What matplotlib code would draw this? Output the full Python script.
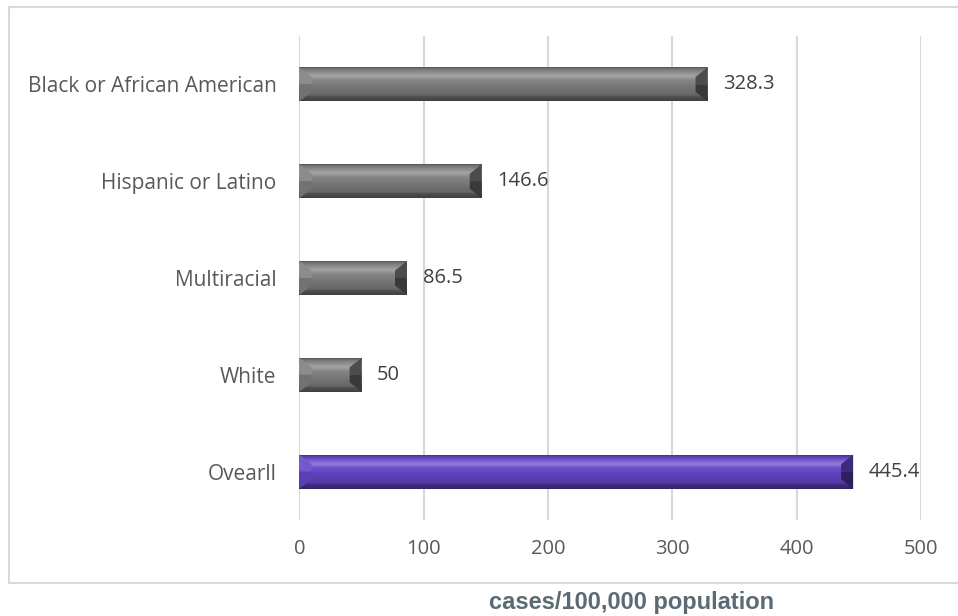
import numpy as np
import matplotlib.pyplot as plt
from matplotlib.patches import Polygon
from matplotlib.lines import Line2D
from matplotlib.colors import to_rgb

# dados (de baixo para cima)
categorias = ['Ovearll', 'White', 'Multiracial', 'Hispanic or Latino', 'Black or African American']
valores = [445.4, 50, 86.5, 146.6, 328.3]
rotulos = ['445.4', '50', '86.5', '146.6', '328.3']
cores = ['#6446c8', '#7f7f7f', '#7f7f7f', '#7f7f7f', '#7f7f7f']

plt.rcParams['font.family'] = ['Open Sans', 'DejaVu Sans']

fig = plt.figure(figsize=(9.58, 6.16), dpi=100)
ax = fig.add_axes([0.3126, 0.1558, 0.6488, 0.7858])

ax.set_xlim(0, 500)
ax.set_ylim(-0.5, 4.5)
altura = 0.35


def mistura(cor, alvo, t):
    c = np.array(to_rgb(cor))
    return tuple(c + (np.array(to_rgb(alvo)) - c) * t)


y_pos = np.arange(len(categorias))
barras = ax.barh(y_pos, valores, height=altura, color=cores, zorder=2)

# gradiente vertical da face (de baixo para cima): (posição, alvo, fração)
paradas = [(0.00, 'black', 0.50), (0.14, 'black', 0.35), (0.16, 'black', 0.20),
           (0.45, 'black', 0.05), (0.62, 'white', 0.05), (0.74, 'white', 0.30),
           (0.84, 'white', 0.12), (0.94, 'black', 0.05), (1.00, 'black', 0.30)]

# efeito de bisel nas barras
d_x = 12 / 1.243
for i, (b, cor) in enumerate(zip(barras, cores)):
    x0, y0 = b.get_x(), b.get_y()
    w, h = b.get_width(), b.get_height()
    pos = [p[0] for p in paradas]
    cs = np.array([mistura(cor, p[1], p[2]) for p in paradas])
    t = np.linspace(0, 1, 80)
    img = np.stack([np.interp(t, pos, cs[:, k]) for k in range(3)], axis=1).reshape(-1, 1, 3)
    im = ax.imshow(img, extent=[x0, x0 + w, y0, y0 + h], origin='lower',
                   aspect='auto', zorder=3, interpolation='bilinear')
    im.set_clip_path(b)
    d = min(d_x, w / 4)
    yb, yt = y0 + h * 0.28, y0 + h * 0.72
    ym = y0 + h / 2
    # lado esquerdo: metade de cima mais clara, de baixo mais escura
    ax.add_patch(Polygon([[x0, y0 + h], [x0 + d, yt], [x0 + d, ym], [x0, ym]],
                         closed=True, color=mistura(cor, 'white', 0.10), zorder=4, lw=0))
    ax.add_patch(Polygon([[x0, y0], [x0 + d, yb], [x0 + d, ym], [x0, ym]],
                         closed=True, color=mistura(cor, 'black', 0.10), zorder=4, lw=0))
    # lado direito escuro
    ax.add_patch(Polygon([[x0 + w, y0 + h], [x0 + w - d, yt], [x0 + w - d, ym], [x0 + w, ym]],
                         closed=True, color=mistura(cor, 'black', 0.40), zorder=4, lw=0))
    ax.add_patch(Polygon([[x0 + w, y0], [x0 + w - d, yb], [x0 + w - d, ym], [x0 + w, ym]],
                         closed=True, color=mistura(cor, 'black', 0.55), zorder=4, lw=0))
    ax.text(x0 + w + 12.5, y0 + h / 2, rotulos[i], va='center', ha='left',
            fontsize=14.5, color='#404040', zorder=5)

ax.set_yticks(y_pos)
ax.set_yticklabels(categorias, fontsize=15, color='#595959')
ax.set_xticks([0, 100, 200, 300, 400, 500])
ax.tick_params(axis='x', labelsize=14.5, colors='#595959', length=0, pad=14)
ax.tick_params(axis='y', length=0, pad=16.5)
ax.grid(axis='x', color='#d9d9d9', lw=1.5, zorder=0)
ax.set_axisbelow(True)
for s in ax.spines.values():
    s.set_visible(False)

# borda do gráfico
borda = '#d9d9d9'
fig.add_artist(Line2D([8.5 / 958, 8.5 / 958], [1 - 7 / 616, 1 - 583 / 616], color=borda, lw=1.5))
fig.add_artist(Line2D([8.5 / 958, 1.0], [1 - 7 / 616, 1 - 7 / 616], color=borda, lw=1.5))
fig.add_artist(Line2D([8.5 / 958, 1.0], [1 - 583 / 616, 1 - 583 / 616], color=borda, lw=1.5))

fig.text(632 / 958, 1 - 603 / 616, 'cases/100,000 population', ha='center', va='center',
         fontsize=17, fontweight='bold', color='#5b6b73', family=['Liberation Sans', 'DejaVu Sans'])

fig.savefig('out.png', dpi=100)
